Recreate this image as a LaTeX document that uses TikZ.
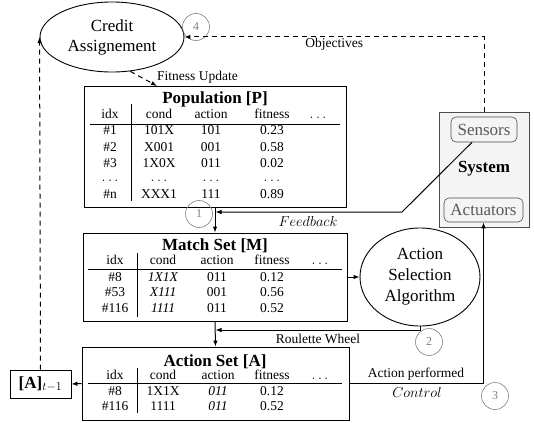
\documentclass[tikz,border=0pt]{standalone}
\usepackage[no-math]{fontspec}
\setmainfont{Liberation Serif}
\usetikzlibrary{shapes.geometric,arrows.meta,calc}
\newcommand\dd{$\ldots$}
\begin{document}
\begin{tikzpicture}[x=1pt,y=-1pt,
  sm/.style={font=\fontsize{13.5}{16}\selectfont},
  big/.style={font=\fontsize{17}{20.5}\selectfont},
  cell/.style={anchor=base, inner sep=0, sm},
  title/.style={anchor=base, inner sep=0, font=\fontsize{17}{20}\selectfont\bfseries},
  tbox/.style={draw, line width=0.9pt, inner sep=0},
  rulel/.style={line width=0.7pt},
  arr/.style={-{Latex[length=6pt,width=4.5pt]}, line width=1pt},
  dsh/.style={dash pattern=on 5pt off 4pt},
  num/.style={circle, draw=gray, line width=0.6pt, minimum size=27pt, inner sep=0, text=gray, font=\fontsize{12}{14}\selectfont},
  ell/.style={ellipse, draw, line width=0.9pt, inner sep=0, align=center},
  sub/.style={draw=black!70, rounded corners=5pt, line width=0.6pt, inner sep=0, text=black!65, font=\fontsize{17}{20}\selectfont}
]
\useasboundingbox (0,0) rectangle (534,422);

% Credit Assignement
\node[ell, minimum width=144pt, minimum height=70pt, font=\fontsize{17}{20}\selectfont] (cred) at (112,37) {Credit\\Assignement};

% Population
\node[tbox, minimum width=262pt, minimum height=121pt] (pop) at (215,146.5) {};
\node[title] (popt) at (215,104) {Population [P]};
\foreach \x/\t [count=\i] in {110/idx,159/cond,211/action,272/fitness,318/\dd}
  \node[cell] (ph\i) at (\x,118.5) {\t};
\draw[rulel] (90,124) -- (340,124);
\draw[rulel] (131,104) -- (131,201);
\foreach \y/\a/\b/\c/\d [count=\r] in {135/\#1/101X/101/0.23, 151/\#2/X001/001/0.58, 167/\#3/1X0X/011/0.02, 181/\dd/\dd/\dd/\dd, 198/\#n/XXX1/111/0.89} {
  \node[cell] (p\r-a) at (110,\y) {\a};
  \node[cell] (p\r-b) at (159,\y) {\b};
  \node[cell] (p\r-c) at (211,\y) {\c};
  \node[cell] (p\r-d) at (272,\y) {\d};
}

% Match Set
\node[tbox, minimum width=264pt, minimum height=88pt] (match) at (215,277) {};
\node[title] (matcht) at (215,250.5) {Match Set [M]};
\foreach \x/\t [count=\i] in {115/idx,163/cond,217/action,272/fitness,320/\dd}
  \node[cell] (mh\i) at (\x,264.5) {\t};
\draw[rulel] (88,269) -- (342,269);
\draw[rulel] (137,253) -- (137,317);
\foreach \y/\a/\b/\c/\d [count=\r] in {281/\#8/\textit{1X1X}/011/0.12, 296/\#53/\textit{X111}/001/0.56, 312/\#116/\textit{1111}/011/0.52} {
  \node[cell] (m\r-a) at (115,\y) {\a};
  \node[cell] (m\r-b) at (163,\y) {\b};
  \node[cell] (m\r-c) at (217,\y) {\c};
  \node[cell] (m\r-d) at (272,\y) {\d};
}

% Action Set
\node[tbox, minimum width=267pt, minimum height=73pt] (act) at (215.5,383.5) {};
\node[title] (actt) at (215,366) {Action Set [A]};
\foreach \x/\t [count=\i] in {115/idx,163/cond,218/action,272/fitness,320/\dd}
  \node[cell] (ah\i) at (\x,379.5) {\t};
\draw[rulel] (88,383.5) -- (342,383.5);
\draw[rulel] (137,368) -- (137,413);
\foreach \y/\a/\b/\c/\d [count=\r] in {395/\#8/1X1X/\textit{011}/0.12, 410/\#116/1111/\textit{011}/0.52} {
  \node[cell] (a\r-a) at (115,\y) {\a};
  \node[cell] (a\r-b) at (163,\y) {\b};
  \node[cell] (a\r-c) at (218,\y) {\c};
  \node[cell] (a\r-d) at (272,\y) {\d};
}

% A_{t-1}
\node[tbox, minimum width=61pt, minimum height=28pt, font=\fontsize{17}{20}\selectfont] (prev) at (40.5,384) {\textbf{[A]}$_{t-1}$};

% Action Selection Algorithm
\node[ell, minimum width=120pt, minimum height=98pt, font=\fontsize{17}{21}\selectfont] (asa) at (420,277) {Action\\Selection\\Algorithm};

% System
\node[draw=black!70, fill=gray!9, line width=0.9pt, minimum width=90pt, minimum height=115pt, inner sep=0] (sys) at (484,169.5) {};
\node[sub, minimum width=66pt, minimum height=25pt] (sens) at (484,129.5) {Sensors};
\node[sub, minimum width=79pt, minimum height=24pt] (actu) at (483.5,210) {Actuators};
\node[font=\fontsize{17}{20}\selectfont\bfseries, inner sep=0] (syst) at (484,169) {System};

% numbered circles
\node[num] (n1) at (199,214) {1};
\node[num] (n2) at (429,342) {2};
\node[num] (n3) at (495,396) {3};
\node[num] (n4) at (196,27) {4};

% connectors
\coordinate (fbs) at ($(sens.south)+(-12,0)$);
\coordinate (fbk) at (402,212);
\coordinate (fbin) at (215.5,212);
\coordinate (rwk) at (420,330);
\coordinate (rwin) at (215.5,330);
\coordinate (fu) at (157,86);

\draw[arr, dsh] (prev.north) -- (cred.west);
\draw[arr, dsh] (sys.north) |- (cred.east) node[pos=0.75, below=1pt, sm, inner sep=0] (objl) {Objectives};
\draw[arr, dsh] (cred.-62) -- (fu);
\node[sm, anchor=west, inner sep=0] (ful) at (157,77) {Fitness Update};

\draw[arr] (pop.south) -- (match.north);
\draw[arr] (fbs) -- (fbk) -- (fbin);
\node[sm, inner sep=0] (fbl) at (308,221) {$Feedback$};

\draw[arr] (match.east) -- (asa.west);
\draw[arr] (asa.south) -- (rwk) -- (rwin);
\node[sm, inner sep=0] (rwl) at (318,339) {Roulette Wheel};

\draw[arr] (match.south) -- (act.north);
\draw[arr] (act.east) -| (actu.south);
\node[sm, inner sep=0] (apl) at (416,374) {Action performed};
\node[sm, inner sep=0] (ctl) at (417,392) {$Control$};

\draw[arr] (act.west) -- (prev.east);
\end{tikzpicture}
\end{document}
